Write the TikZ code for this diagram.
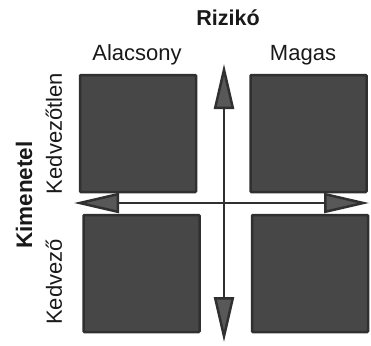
\documentclass[tikz,border=0pt]{standalone}
\usepackage{fontspec}
\setmainfont{Liberation Sans}
\usepackage{xcolor}
\usetikzlibrary{arrows.meta}
\definecolor{boxfill}{HTML}{474747}
\definecolor{boxline}{HTML}{303030}
\definecolor{tipfill}{HTML}{585858}
\begin{document}
\begin{tikzpicture}[x=1pt,y=-1pt,
                    field/.style={draw=boxline,fill=boxfill,line width=2.5pt,
                                  minimum width=116pt,minimum height=117pt,
                                  inner sep=0pt,rounded corners=1pt},
                    label/.style={font=\fontsize{22}{26}\selectfont,text=black!90},
                    heading/.style={font=\fontsize{21.5}{26}\selectfont\bfseries,text=black!90},
                    axis/.style={draw=boxline,line width=2.5pt,
                                 {Triangle[length=45pt,width=20pt,fill=tipfill]}-{Triangle[length=45pt,width=20pt,fill=tipfill]}}]
\useasboundingbox (0,0) rectangle (371,345);
\node[field] (lowbad) at (138,133.5) {};
\node[field] (highbad) at (308.5,133.5) {};
\node[field] (lowgood) at (141.5,273.5) {};
\node[field] (highgood) at (310,273.5) {};
\coordinate (risktop) at (224,64);
\coordinate (riskbot) at (224,342);
\coordinate (outleft) at (74,203);
\coordinate (outright) at (369,203);
\draw[axis] (risktop) -- (riskbot);
\draw[axis] (outleft) -- (outright);
\node[heading] (risk) at (228,18) {Rizikó};
\node[label] (low) at (137,55) {Alacsony};
\node[label] (high) at (303,55) {Magas};
\node[heading,font=\fontsize{22.5}{26}\selectfont\bfseries,rotate=90] (outcome) at (24,195) {Kimenetel};
\node[label,rotate=90] (bad) at (54,133.5) {Kedvezőtlen};
\node[label,rotate=90] (good) at (54,282) {Kedvező};
\end{tikzpicture}
\end{document}
